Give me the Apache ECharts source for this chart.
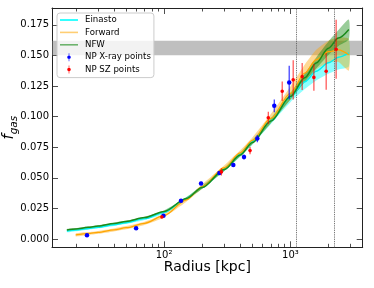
<!DOCTYPE html>
<html>
<head>
<meta charset="utf-8">
<script src="https://cdn.jsdelivr.net/npm/echarts@6/dist/echarts.min.js"></script>
<style>html,body{margin:0;padding:0;background:#fff}#c{width:374px;height:288px}</style>
</head>
<body>
<div id="c"></div>
<script>
// ---------- data (radius in kpc, gas fraction) ----------
const R_model   = [17, 20, 25, 30, 40, 50, 70, 100, 150, 200, 300, 400, 500, 700, 1000, 1300, 1600, 2000, 2400, 2900];
const nfw_f     = [0.0074, 0.0082, 0.0095, 0.0106, 0.0126, 0.0143, 0.0175, 0.0225, 0.0330, 0.0420, 0.0567, 0.0686, 0.0788, 0.0963, 0.1164, 0.1317, 0.1438, 0.1559, 0.1642, 0.1712];
const nfw_err   = [0.0007, 0.0007, 0.0007, 0.0007, 0.0007, 0.0007, 0.0007, 0.0008, 0.0010, 0.0010, 0.0012, 0.0013, 0.0015, 0.0018, 0.0025, 0.0035, 0.0045, 0.0055, 0.0065, 0.0080];
const ein_f     = [0.0064, 0.0072, 0.0085, 0.0096, 0.0116, 0.0133, 0.0166, 0.0217, 0.0330, 0.0423, 0.0570, 0.0690, 0.0792, 0.0965, 0.1158, 0.1285, 0.1370, 0.1440, 0.1485, 0.1520];
const ein_err   = [0.0009, 0.0009, 0.0009, 0.0009, 0.0009, 0.0009, 0.0010, 0.0010, 0.0012, 0.0013, 0.0015, 0.0018, 0.0020, 0.0025, 0.0040, 0.0060, 0.0075, 0.0090, 0.0100, 0.0110];
const R_fwd     = [20, 25, 30, 40, 50, 70, 100, 150, 200, 300, 400, 500, 700, 1000, 1300, 1600, 2000, 2400, 2900];
const fwd_f     = [0.0033, 0.0044, 0.0054, 0.0074, 0.0092, 0.0128, 0.0192, 0.0320, 0.0428, 0.0582, 0.0703, 0.0805, 0.0985, 0.1190, 0.1355, 0.1465, 0.1530, 0.1545, 0.1505];
const fwd_err   = [0.0012, 0.0012, 0.0012, 0.0012, 0.0013, 0.0013, 0.0014, 0.0016, 0.0018, 0.0020, 0.0022, 0.0025, 0.0035, 0.0055, 0.0070, 0.0080, 0.0090, 0.0100, 0.0130];

const xray_R    = [24.5, 60, 98.8, 136, 196, 274, 353, 429, 547, 745, 978];
const xray_f    = [0.0030, 0.0087, 0.0190, 0.0312, 0.0453, 0.0540, 0.0605, 0.0670, 0.0820, 0.1088, 0.1278];
const xray_err  = [0.0008, 0.0008, 0.0010, 0.0015, 0.0015, 0.0015, 0.0015, 0.0020, 0.0030, 0.0052, 0.0137];
const sz_R      = [96, 284, 479, 668, 861, 1052, 1239, 1534, 1919, 2301];
const sz_f      = [0.0179, 0.0548, 0.0722, 0.0990, 0.1207, 0.1300, 0.1327, 0.1320, 0.1370, 0.1550];
const sz_err    = [0.0010, 0.0030, 0.0030, 0.0050, 0.0080, 0.0160, 0.0110, 0.0110, 0.0150, 0.0240];

const baryon_band = [0.150, 0.162];
const vlines_R    = [1115, 2244];

const xMajor       = [100, 1000];
const xMajorLabels = ['10²', '10³'];
const xMinor       = [20, 30, 40, 50, 60, 70, 80, 90, 200, 300, 400, 500, 600, 700, 800, 900, 2000, 3000];
const yTicks       = [0, 0.025, 0.05, 0.075, 0.1, 0.125, 0.15, 0.175];
const R_range      = [12.95, 3735];
const f_range      = [-0.0068, 0.1887];

// ---------- helpers ----------
const lg = Math.log10;
const FONT = 'DejaVu Sans';
function lineData(Rs, fs) { return Rs.map((r, i) => [lg(r), fs[i]]); }
function bandData(Rs, fs, es) { return Rs.map((r, i) => [lg(r), fs[i] - es[i], fs[i] + es[i]]); }
function bandSeries(name, Rs, fs, es, fill) {
  const d = bandData(Rs, fs, es);
  return {
    type: 'custom', name: name, z: 2, silent: true,
    data: d, encode: { x: 0, y: [1, 2] },
    renderItem: function (params, api) {
      if (params.dataIndex !== 0) return null;
      const up = d.map(p => api.coord([p[0], p[2]]));
      const lo = d.map(p => api.coord([p[0], p[1]])).reverse();
      return { type: 'polygon', shape: { points: up.concat(lo), smooth: 0.2 }, style: { fill: fill } };
    }
  };
}
function errSeries(name, Rs, fs, es, color, barColor, size) {
  return {
    type: 'custom', name: name, z: 6,
    itemStyle: { color: color },
    data: Rs.map((r, i) => [lg(r), fs[i], es[i]]),
    encode: { x: 0, y: 1 },
    renderItem: function (params, api) {
      const x = api.value(0), y = api.value(1), e = api.value(2);
      const p0 = api.coord([x, y - e]), p1 = api.coord([x, y + e]), c = api.coord([x, y]);
      return {
        type: 'group', children: [
          { type: 'line', shape: { x1: p0[0], y1: p0[1], x2: p1[0], y2: p1[1] }, style: { stroke: barColor, lineWidth: 1.2 } },
          { type: 'circle', shape: { cx: c[0], cy: c[1], r: size / 2 }, style: { fill: color } }
        ]
      };
    }
  };
}

const LINE_ICON = 'path://M0,0H18V1.6H0Z';
const EB_ICON = 'path://M1.7,0H2.3V8H1.7Z M2,2.2A1.8,1.8,0,1,1,2,5.8A1.8,1.8,0,1,1,2,2.2Z';

const xmin = lg(R_range[0]), xmax = lg(R_range[1]);
const axisColor = '#222';
function xAx(pos, ticks, len, labels, showLine) {
  return {
    type: 'value', position: pos, min: xmin, max: xmax,
    axisLine: { show: showLine, onZero: false, lineStyle: { color: axisColor, width: 1 } },
    axisTick: { show: true, inside: true, length: len, customValues: ticks.map(lg), lineStyle: { color: axisColor, width: 0.8 } },
    axisLabel: labels ? {
      show: true, customValues: xMajor.map(lg), margin: 3, fontFamily: FONT, fontSize: 10, color: '#000',
      formatter: function (v) { let k = 0; let best = 1e9; xMajor.forEach((m, i) => { const dd = Math.abs(lg(m) - v); if (dd < best) { best = dd; k = i; } }); return xMajorLabels[k]; }
    } : { show: false },
    splitLine: { show: false }
  };
}

const option = {
  animation: false,
  backgroundColor: '#fff',
  grid: { left: 52, right: 11.3, top: 8, bottom: 40.7, containLabel: false, outerBoundsMode: 'none' },
  xAxis: [
    Object.assign(xAx('bottom', xMajor, 6, true, true), {
      name: 'Radius [kpc]', nameLocation: 'middle', nameGap: 13, nameMoveOverlap: false,
      nameTextStyle: { fontFamily: FONT, fontSize: 14, color: '#000', verticalAlign: 'top' }
    }),
    xAx('bottom', xMinor, 3.5, false, false),
    xAx('top', xMajor, 6, false, true),
    xAx('top', xMinor, 3.5, false, false)
  ],
  yAxis: [
    {
      type: 'value', position: 'left', min: f_range[0], max: f_range[1],
      axisLine: { show: true, onZero: false, lineStyle: { color: axisColor, width: 1 } },
      axisTick: { show: true, inside: true, length: 6, customValues: yTicks, lineStyle: { color: axisColor, width: 0.8 } },
      axisLabel: { show: true, customValues: yTicks, margin: 3, fontFamily: FONT, fontSize: 10, color: '#000', formatter: v => v.toFixed(3) },
      splitLine: { show: false },
      name: '{f|f}{s|gas}', nameLocation: 'middle', nameGap: 32, nameRotate: 90, nameMoveOverlap: false,
      nameTextStyle: {
        rich: {
          f: { fontFamily: FONT, fontSize: 15, fontStyle: 'italic', color: '#000', verticalAlign: 'bottom', padding: [0, 0, 3, 0] },
          s: { fontFamily: FONT, fontSize: 10.5, fontStyle: 'italic', color: '#000', verticalAlign: 'bottom' }
        }
      }
    },
    {
      type: 'value', position: 'right', min: f_range[0], max: f_range[1],
      axisLine: { show: true, onZero: false, lineStyle: { color: axisColor, width: 1 } },
      axisTick: { show: true, inside: true, length: 6, customValues: yTicks, lineStyle: { color: axisColor, width: 0.8 } },
      axisLabel: { show: false }, splitLine: { show: false }
    }
  ],
  legend: {
    orient: 'vertical', left: 57, top: 13,
    padding: [2, 3, 3, 3], itemWidth: 18, itemHeight: 8, itemGap: 2.4,
    backgroundColor: 'rgba(255,255,255,0.8)', borderColor: '#cccccc', borderWidth: 1, borderRadius: 3,
    textStyle: { fontFamily: FONT, fontSize: 8.6, color: '#000', lineHeight: 10, padding: [0, 0, 0, 2] },
    data: [
      { name: 'Einasto', icon: LINE_ICON, itemStyle: { color: '#00ffff' } },
      { name: 'Forward', icon: LINE_ICON, itemStyle: { color: 'rgba(255,165,0,0.55)' } },
      { name: 'NFW', icon: LINE_ICON, itemStyle: { color: 'rgba(0,128,0,0.55)' } },
      { name: 'NP X-ray points', icon: EB_ICON, itemStyle: { color: '#0000ff' } },
      { name: 'NP SZ points', icon: EB_ICON, itemStyle: { color: '#ff0000' } }
    ]
  },
  series: [
    {
      type: 'line', name: 'ref', data: [], silent: true,
      markArea: {
        silent: true, z: 1,
        itemStyle: { color: 'rgba(128,128,128,0.5)' },
        data: [[{ yAxis: baryon_band[0] }, { yAxis: baryon_band[1] }]]
      },
      markLine: {
        silent: true, symbol: 'none', label: { show: false },
        lineStyle: { color: '#555', type: 'dotted', width: 0.9 },
        data: vlines_R.map(r => ({ xAxis: lg(r) }))
      }
    },
    bandSeries('ein_band', R_model, ein_f, ein_err, 'rgba(0,255,255,0.45)'),
    bandSeries('fwd_band', R_fwd, fwd_f, fwd_err, 'rgba(255,165,0,0.42)'),
    bandSeries('nfw_band', R_model, nfw_f, nfw_err, 'rgba(0,128,0,0.4)'),
    { type: 'line', name: 'Einasto', z: 3, data: lineData(R_model, ein_f), showSymbol: false, smooth: 0.3, smoothMonotone: 'x', color: '#00ffff', lineStyle: { color: '#00f0f0', width: 1.4 } },
    { type: 'line', name: 'Forward', z: 3, data: lineData(R_fwd, fwd_f), showSymbol: false, smooth: 0.3, smoothMonotone: 'x', color: '#ffa500', lineStyle: { color: '#ffa500', width: 1.3 } },
    { type: 'line', name: 'NFW', z: 4, data: lineData(R_model, nfw_f), showSymbol: false, smooth: 0.3, smoothMonotone: 'x', color: '#008000', lineStyle: { color: '#1a8a1a', width: 1.5 } },
    errSeries('NP X-ray points', xray_R, xray_f, xray_err, '#0000ff', 'rgba(0,0,255,0.8)', 4.5),
    errSeries('NP SZ points', sz_R, sz_f, sz_err, '#ff0000', 'rgba(255,0,0,0.7)', 3.6)
  ]
};

const chart = echarts.init(document.getElementById('c'), null, { renderer: 'canvas' });
chart.setOption(option);
</script>
</body>
</html>
